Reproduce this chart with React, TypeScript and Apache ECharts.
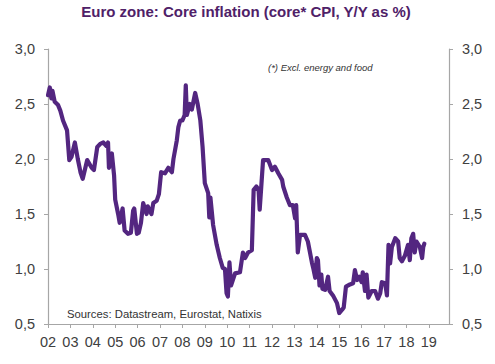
import React, { useEffect, useRef } from "react";
import * as echarts from "echarts";

const TITLE = "Euro zone: Core inflation (core* CPI, Y/Y as %)";
const NOTE = "(*) Excl. energy and food";
const SOURCE = "Sources: Datastream, Eurostat, Natixis";

// decimal year of observation
const dates = [
  2002.0, 2002.08, 2002.15, 2002.2, 2002.3, 2002.45, 2002.55, 2002.67, 2002.85, 2002.95,
  2003.05, 2003.2, 2003.33, 2003.45, 2003.55, 2003.75, 2003.95, 2004.05, 2004.2, 2004.35,
  2004.47, 2004.6, 2004.68, 2004.72, 2004.85, 2004.95, 2005.0, 2005.13, 2005.2, 2005.33,
  2005.42, 2005.57, 2005.7, 2005.8, 2005.85, 2005.97, 2006.05, 2006.15, 2006.25, 2006.4,
  2006.45, 2006.62, 2006.7, 2006.85, 2006.95, 2007.05, 2007.22, 2007.37, 2007.53, 2007.6,
  2007.75, 2007.82, 2007.9, 2008.0, 2008.1, 2008.15, 2008.2, 2008.33, 2008.42, 2008.57,
  2008.68, 2008.8, 2008.9, 2009.0, 2009.15, 2009.2, 2009.25, 2009.37, 2009.53, 2009.67,
  2009.8, 2009.9, 2009.97, 2010.03, 2010.1, 2010.17, 2010.35, 2010.57, 2010.7, 2010.8,
  2010.93, 2011.1, 2011.18, 2011.3, 2011.4, 2011.45, 2011.52, 2011.6, 2011.83, 2012.0,
  2012.13, 2012.28, 2012.45, 2012.5, 2012.66, 2012.8, 2012.93, 2013.03, 2013.08, 2013.15,
  2013.25, 2013.47, 2013.6, 2013.78, 2013.85, 2013.93, 2014.0, 2014.05, 2014.12, 2014.2,
  2014.25, 2014.37, 2014.5, 2014.57, 2014.72, 2014.9, 2015.0, 2015.13, 2015.2, 2015.3,
  2015.48, 2015.62, 2015.7, 2015.8, 2015.9, 2016.0, 2016.05, 2016.15, 2016.22, 2016.3,
  2016.45, 2016.6, 2016.73, 2016.83, 2016.9, 2017.05, 2017.13, 2017.2, 2017.27, 2017.35,
  2017.5, 2017.63, 2017.7, 2017.8, 2017.93, 2018.07, 2018.15, 2018.22, 2018.3, 2018.37,
  2018.45, 2018.6, 2018.7, 2018.75, 2018.8,
];

// core CPI, Y/Y %
const coreCpi = [
  2.58, 2.65, 2.55, 2.62, 2.52, 2.49, 2.44, 2.35, 2.26, 1.99,
  2.02, 2.15, 2.0, 1.88, 1.82, 1.99, 1.92, 1.9, 2.11, 2.14,
  2.15, 2.12, 2.15, 1.92, 2.05, 1.85, 1.63, 1.5, 1.42, 1.55,
  1.35, 1.32, 1.33, 1.53, 1.55, 1.32, 1.33, 1.42, 1.6, 1.5,
  1.57, 1.5, 1.6, 1.62, 1.68, 1.88, 1.87, 1.92, 1.88, 2.0,
  2.17, 2.29, 2.35, 2.35, 2.4, 2.67, 2.4, 2.5, 2.45, 2.6,
  2.5, 2.35, 2.11, 1.78, 1.69, 1.47, 1.65, 1.4, 1.22, 1.1,
  1.01, 1.0, 0.78, 0.75, 1.06, 0.85, 0.96, 0.97, 1.15, 1.1,
  1.15, 1.17, 1.72, 1.75, 1.72, 1.54, 1.75, 1.99, 1.99, 1.9,
  1.93, 1.87, 1.81, 1.75, 1.65, 1.58, 1.58, 1.46, 1.58, 1.15,
  1.31, 1.31, 1.25, 1.06, 1.0, 0.92, 1.1, 1.08, 0.85, 0.95,
  0.82, 0.81, 0.93, 0.8, 0.76, 0.69, 0.6, 0.63, 0.65, 0.84,
  0.86, 0.87, 0.99, 0.9, 0.93, 0.88, 0.97, 0.8, 0.95, 0.74,
  0.8, 0.8, 0.73, 0.78, 0.88, 0.87, 0.76, 1.22, 1.05, 1.2,
  1.28, 1.25, 1.1, 1.07, 1.12, 1.22, 1.08, 1.28, 1.32, 1.15,
  1.25, 1.2, 1.1, 1.2, 1.23,
];

const yearTicks = ["02", "03", "04", "05", "06", "07", "08", "09", "10", "11", "12", "13", "14", "15", "16", "17", "18", "19"];

const FONT = "'Liberation Sans', Arial, sans-serif";
const PURPLE = "#532680";
const AXIS = "#a6a6a6";
const LABEL = "#404040";

export default function App() {
  const ref = useRef<HTMLDivElement>(null);
  useEffect(() => {
    if (!ref.current) return;
    const chart = echarts.init(ref.current, undefined, { renderer: "svg" });
    const yFmt = (v: number) => v.toFixed(1).replace(".", ",");
    const yAxisBase = {
      type: "value",
      min: 0.5,
      max: 3.0,
      interval: 0.5,
      splitLine: { show: false },
      axisLine: { show: true, lineStyle: { color: AXIS, width: 1.2 } },
      axisTick: { show: true, length: 4, lineStyle: { color: AXIS } },
      axisLabel: { formatter: yFmt, color: LABEL, fontSize: 14.5, fontFamily: FONT, margin: 13 },
    };
    chart.setOption({
      animation: false,
      grid: { left: 48, right: 46, top: 49, bottom: 40, containLabel: false },
      xAxis: {
        type: "value",
        min: 2002,
        max: 2019.9,
        interval: 1,
        splitLine: { show: false },
        axisLine: { show: true, lineStyle: { color: AXIS, width: 1.2 } },
        axisTick: { show: true, length: 4, lineStyle: { color: AXIS } },
        axisLabel: {
          showMaxLabel: false,
          color: LABEL,
          fontSize: 14.5,
          fontFamily: FONT,
          margin: 10,
          formatter: (v: number) => {
            const i = Math.round(v - 2002);
            if (Math.abs(v - Math.round(v)) > 1e-6) return "";
            return yearTicks[i] ?? "";
          },
        },
      },
      yAxis: [
        { ...yAxisBase, position: "left" },
        { ...yAxisBase, position: "right" },
      ],
      series: [
        {
          type: "line",
          data: dates.map((d, i) => [d, coreCpi[i]]),
          showSymbol: false,
          symbol: "none",
          lineStyle: { color: PURPLE, width: 4.2, join: "round", cap: "round" },
          yAxisIndex: 0,
        },
      ],
      graphic: [
        {
          type: "text",
          x: 246,
          y: 11,
          style: {
            text: TITLE,
            fill: "#4f2168",
            font: `bold 15px ${FONT}`,
            textAlign: "center",
            textVerticalAlign: "middle",
          },
        },
        {
          type: "text",
          x: 268,
          y: 67,
          style: {
            text: NOTE,
            fill: "#333333",
            font: `italic 9.5px ${FONT}`,
            textAlign: "left",
            textVerticalAlign: "middle",
          },
        },
        {
          type: "text",
          x: 67,
          y: 314,
          style: {
            text: SOURCE,
            fill: "#333333",
            font: `11.3px ${FONT}`,
            textAlign: "left",
            textVerticalAlign: "middle",
          },
        },
      ],
    });
    return () => chart.dispose();
  }, []);
  return (
    <div
      ref={ref}
      style={{ position: "fixed", left: 0, top: 0, width: 495, height: 364, background: "#ffffff" }}
    />
  );
}
